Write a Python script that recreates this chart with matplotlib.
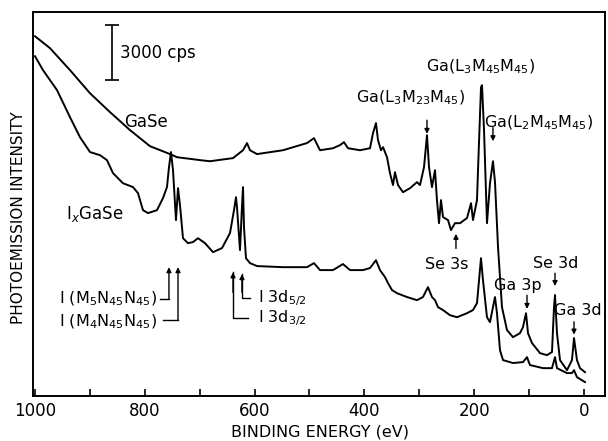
import matplotlib.pyplot as plt

# binding energy (eV) and photoemission intensity (kcps)
gase_ev = [1000, 972.7, 936.2, 899.8, 863.4, 827.0, 790.5, 754.1, 741.3, 699.5,
           681.2, 639.3, 621.1, 613.8, 608.4, 595.6, 548.3, 504.6, 491.8, 480.9,
           457.2, 444.4, 437.2, 429.9, 408.0, 389.8, 384.3, 378.9, 375.2, 369.8,
           366.1, 358.8, 353.4, 347.9, 344.3, 338.8, 329.7, 316.9, 304.2, 298.7,
           291.4, 286.0, 282.3, 276.9, 271.4, 267.8, 264.1, 260.5, 256.8, 247.7,
           242.3, 235.0, 225.9, 213.1, 205.8, 202.2, 194.9, 191.3, 187.6, 185.8,
           182.1, 176.7, 171.2, 165.8, 162.1, 156.6, 149.4, 140.3, 129.3, 116.6,
           111.1, 105.6, 102.0, 94.7, 80.1, 67.4, 58.3, 54.6, 52.8, 49.2,
           43.7, 31.0, 21.9, 18.2, 12.8, 7.3, -1.8]
gase_int = [19.58, 18.93, 17.73, 16.47, 15.44, 14.46, 13.58, 13.15, 12.98, 12.82,
            12.76, 12.93, 13.36, 13.75, 13.36, 13.15, 13.36, 13.75, 14.02, 13.36,
            13.47, 13.64, 13.80, 13.47, 13.36, 13.47, 14.29, 14.84, 13.91, 13.36,
            13.53, 12.98, 12.11, 11.46, 12.16, 11.46, 11.07, 11.29, 11.62, 11.46,
            12.44, 14.18, 12.44, 11.35, 12.27, 10.64, 9.38, 10.64, 9.71, 9.55,
            9.00, 9.38, 9.38, 9.66, 10.47, 9.55, 10.64, 13.75, 16.80, 16.91,
            14.46, 9.38, 11.56, 12.76, 11.62, 8.07, 4.80, 3.55, 3.16, 3.38,
            3.71, 4.47, 3.38, 2.84, 2.29, 2.18, 2.35, 4.80, 5.46, 3.38,
            1.91, 1.36, 1.91, 3.11, 1.91, 1.47, 1.25]

ixgase_ev = [1000, 985.4, 959.9, 936.2, 918.0, 899.8, 881.6, 868.9, 857.9, 839.7,
             821.5, 812.4, 803.3, 794.2, 777.8, 766.8, 759.6, 755.9, 752.3, 748.6,
             743.2, 739.5, 735.9, 730.4, 721.3, 712.2, 703.1, 690.3, 675.8, 659.4,
             644.8, 637.5, 633.9, 632.1, 626.6, 623.0, 621.1, 619.3, 615.7, 608.4,
             595.6, 548.3, 504.6, 491.8, 480.9, 457.2, 439.0, 426.2, 402.6, 389.8,
             378.9, 371.6, 362.5, 357.0, 349.7, 340.6, 322.4, 304.2, 293.3, 284.2,
             276.9, 271.4, 265.9, 256.8, 244.1, 231.3, 213.1, 202.2, 194.9, 187.6,
             184.0, 176.7, 171.2, 165.8, 162.1, 158.5, 153.0, 147.5, 129.3, 111.1,
             103.8, 98.4, 74.7, 58.3, 52.8, 49.2, 31.0, 21.9, 18.2, 12.8, -1.8]
ixgase_int = [18.49, 17.73, 16.64, 15.16, 14.07, 13.26, 13.09, 12.82, 12.11, 11.56,
              11.35, 11.02, 10.09, 9.93, 10.09, 10.75, 11.35, 12.44, 13.26, 12.27,
              9.55, 11.29, 10.36, 8.56, 8.29, 8.35, 8.56, 8.29, 7.80, 8.02,
              8.84, 10.09, 10.80, 10.26, 7.91, 10.26, 11.35, 9.16, 7.47, 7.20,
              7.04, 6.98, 6.98, 7.20, 6.82, 6.82, 7.15, 6.82, 6.82, 6.93,
              7.36, 6.82, 6.44, 6.11, 5.73, 5.56, 5.35, 5.18, 5.35, 5.89,
              5.35, 5.18, 4.80, 4.64, 4.36, 4.25, 4.47, 4.64, 5.02, 7.47,
              6.27, 4.25, 3.98, 4.80, 5.35, 4.47, 2.45, 1.91, 1.75, 1.80,
              2.07, 1.64, 1.47, 1.47, 2.07, 1.47, 1.20, 1.20, 1.36, 0.98, 0.71]

xticks = [1000, 800, 600, 400, 200, 0]
xlabels = ['1000', '800', '600', '400', '200', '0']

plt.rcParams['font.family'] = 'DejaVu Sans'

fig = plt.figure(figsize=(6.08, 4.41), dpi=100)
ax = fig.add_axes([0.0543, 0.102, 0.9408, 0.8707])

ax.plot(gase_ev, gase_int, color='black', lw=1.4)
ax.plot(ixgase_ev, ixgase_int, color='black', lw=1.4)

ax.set_xlim(1003.6, -38.3)
ax.set_ylim(-0.05, 20.9)
ax.set_yticks([])
ax.set_xticks(xticks)
ax.set_xticklabels(xlabels, fontsize=12)
ax.set_xticks(range(100, 1000, 200), minor=True)
ax.tick_params(axis='x', which='both', direction='in', length=5, width=1.2, pad=4)
for s in ax.spines.values():
    s.set_linewidth(1.4)

ax.set_xlabel('BINDING ENERGY (eV)', fontsize=11.5)
ax.xaxis.set_label_coords(0.502, -0.073)
ax.set_ylabel('PHOTOEMISSION INTENSITY', fontsize=11)
ax.yaxis.set_label_coords(-0.012, 0.4635)

# 3000 cps scale bar
ax.errorbar([860], [18.68], yerr=[1.5], color='black', capsize=5, lw=1.2, capthick=1.2)
ax.text(845, 18.68, '3000 cps', fontsize=12, va='center', ha='left')

ax.text(798, 14.89, 'GaSe', fontsize=12, ha='center', va='center')
ax.text(891, 9.87, r'I$_x$GaSe', fontsize=12, ha='center', va='center')


def arrow(x, y0, y1):
    ax.annotate('', xy=(x, y1), xytext=(x, y0),
                arrowprops=dict(arrowstyle='-|>', color='black', lw=1.0,
                                mutation_scale=7, shrinkA=0, shrinkB=0))


ax.text(189, 17.89, r'Ga(L$_3$M$_{45}$M$_{45}$)', fontsize=11.5, ha='center', va='center')
ax.text(315, 16.20, r'Ga(L$_3$M$_{23}$M$_{45}$)', fontsize=11.5, ha='center', va='center')
arrow(286, 15.0, 14.25)
ax.text(82, 14.84, r'Ga(L$_2$M$_{45}$M$_{45}$)', fontsize=11.5, ha='center', va='center')
arrow(165.8, 14.6, 13.85)
ax.text(249.5, 7.15, 'Se 3s', fontsize=11.5, ha='center', va='center')
arrow(233.2, 8.0, 8.8)
ax.text(120, 6.0, 'Ga 3p', fontsize=11.5, ha='center', va='center')
arrow(103.8, 5.45, 4.7)
ax.text(51, 7.2, 'Se 3d', fontsize=11.5, ha='center', va='center')
arrow(52.8, 6.65, 5.95)
ax.text(11, 4.64, 'Ga 3d', fontsize=11.5, ha='center', va='center')
arrow(18.2, 4.0, 3.3)

# iodine Auger leaders
ax.text(778, 5.24, r'I (M$_5$N$_{45}$N$_{45}$)', fontsize=11.5, ha='right', va='center')
ax.plot([772, 756], [5.24, 5.24], color='black', lw=1.0)
arrow(756, 5.24, 6.98)
ax.text(778, 3.98, r'I (M$_4$N$_{45}$N$_{45}$)', fontsize=11.5, ha='right', va='center')
ax.plot([767, 739.5], [4.09, 4.09], color='black', lw=1.0)
arrow(739.5, 4.09, 6.98)

# iodine 3d leaders
ax.plot([623, 623, 608.4], [6.6, 5.29, 5.29], color='black', lw=1.0)
arrow(623, 5.6, 6.6)
ax.plot([639.3, 639.3, 612], [6.7, 4.2, 4.2], color='black', lw=1.0)
arrow(639.3, 5.6, 6.7)
ax.text(594, 5.29, r'I 3d$_{5/2}$', fontsize=11.5, ha='left', va='center')
ax.text(594, 4.2, r'I 3d$_{3/2}$', fontsize=11.5, ha='left', va='center')

fig.savefig('out.png', dpi=100)
